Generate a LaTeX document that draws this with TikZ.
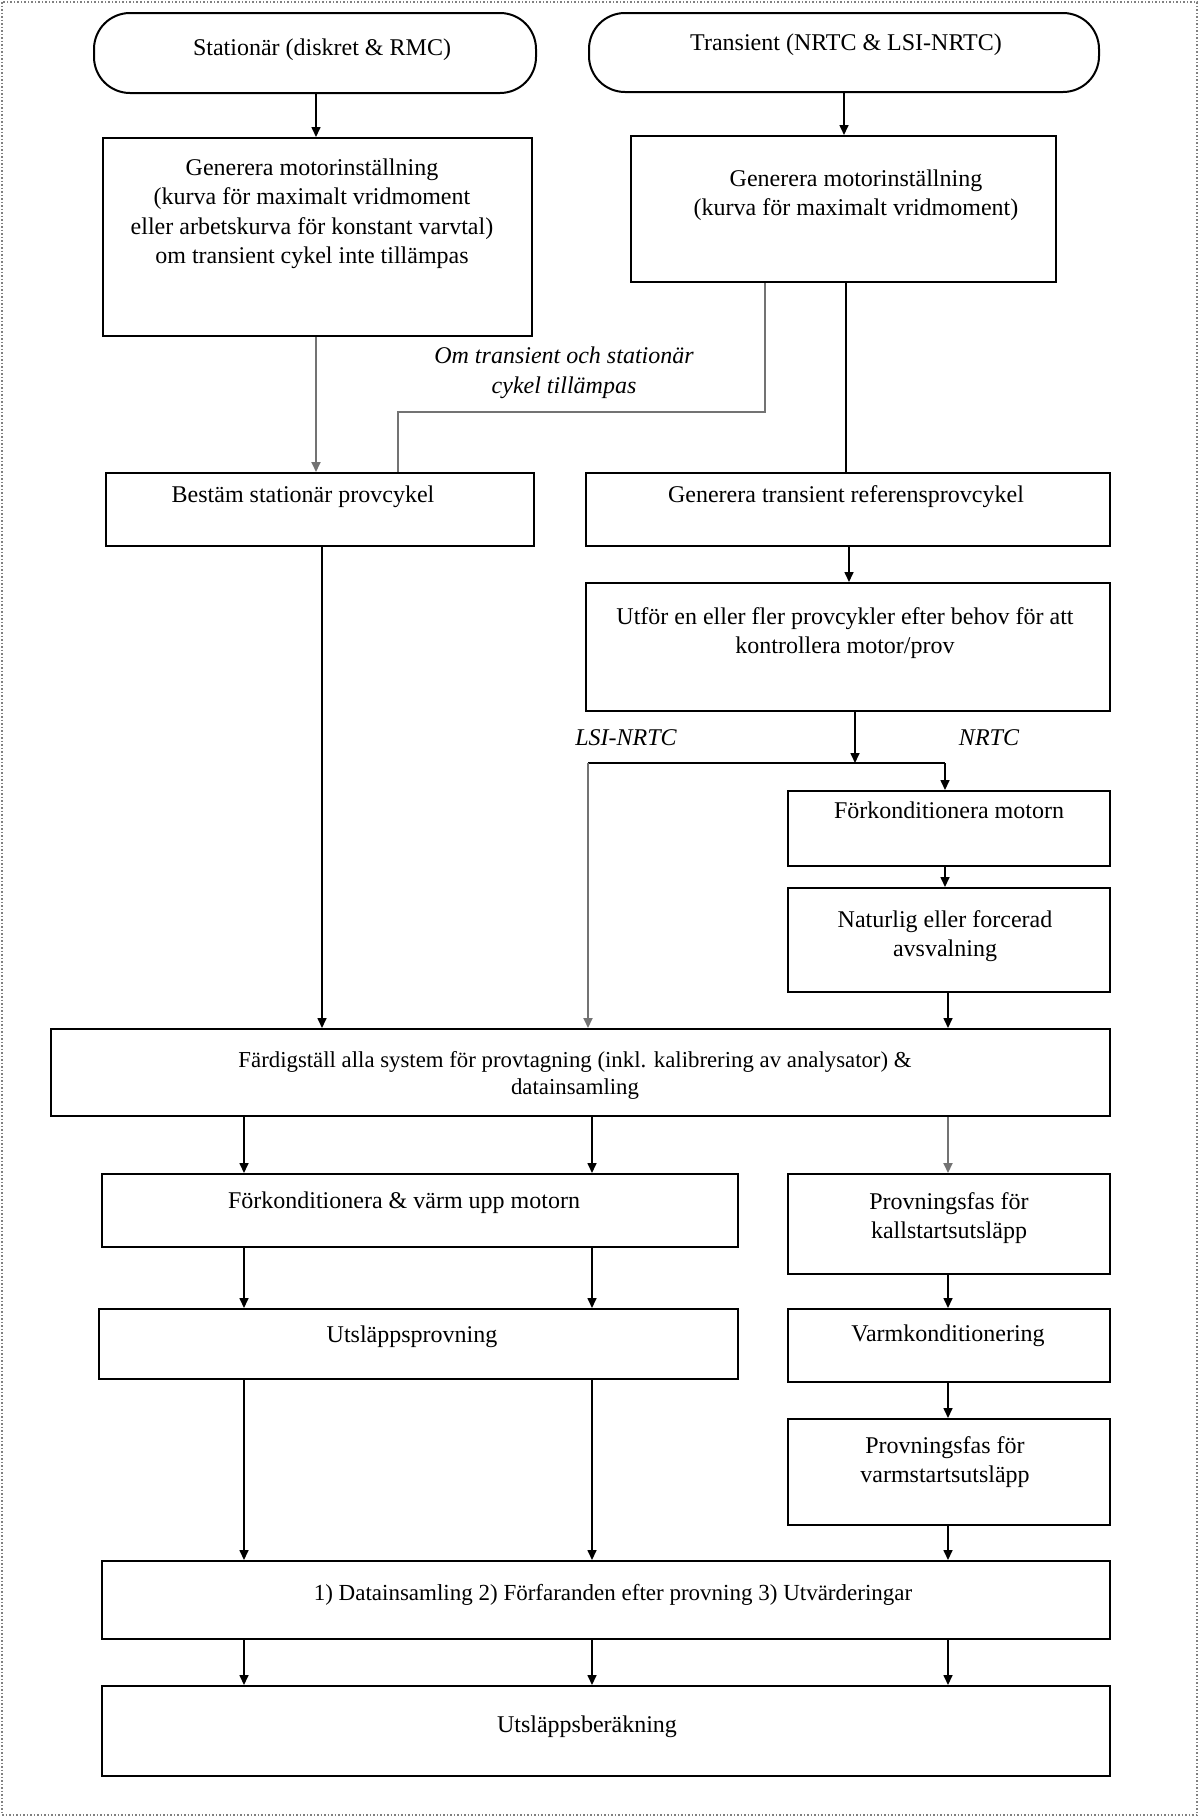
\documentclass[tikz,border=0pt]{standalone}
\usepackage{fontspec}
\setmainfont{Liberation Serif}
\usetikzlibrary{arrows.meta}
\begin{document}
\begin{tikzpicture}[x=1pt,y=-1pt,
  box/.style={draw=black,line width=2pt,inner sep=0pt},
  term/.style={draw=black,line width=2pt,rounded corners=36pt,inner sep=0pt},
  txt/.style={align=center,inner sep=0pt,font=\fontsize{24}{29.5}\selectfont},
  itxt/.style={align=center,inner sep=0pt,font=\fontsize{24}{30}\selectfont\itshape},
  ln/.style={line width=1.6pt,draw=black},
  gln/.style={line width=1.8pt,draw=black!55},
  arr/.style={ln,-{Triangle[length=10pt,width=9pt]}},
  garr/.style={gln,-{Triangle[length=10pt,width=9pt]}}]
\useasboundingbox (0,0) rectangle (1200,1818);
\draw[black!50,dotted,line width=1.5pt] (2,2) rectangle (1197,1815);

% boxes
\node[term,minimum width=442pt,minimum height=80pt] (termL) at (315,53) {};
\node[term,minimum width=510pt,minimum height=79pt] (termR) at (844,52.5) {};
\node[box,minimum width=429pt,minimum height=198pt] (g1) at (317.5,237) {};
\node[box,minimum width=425pt,minimum height=146pt] (g2) at (843.5,209) {};
\node[box,minimum width=428pt,minimum height=73pt] (bestam) at (320,509.5) {};
\node[box,minimum width=524pt,minimum height=73pt] (gentr) at (848,509.5) {};
\node[box,minimum width=524pt,minimum height=128pt] (utfor) at (848,647) {};
\node[box,minimum width=322pt,minimum height=75pt] (forkm) at (949,828.5) {};
\node[box,minimum width=322pt,minimum height=104pt] (natur) at (949,940) {};
\node[box,minimum width=1059pt,minimum height=87pt] (fardig) at (580.5,1072.5) {};
\node[box,minimum width=636pt,minimum height=73pt] (forkv) at (420,1210.5) {};
\node[box,minimum width=322pt,minimum height=100pt] (provk) at (949,1224) {};
\node[box,minimum width=639pt,minimum height=70pt] (utslp) at (418.5,1344) {};
\node[box,minimum width=322pt,minimum height=73pt] (varmk) at (949,1345.5) {};
\node[box,minimum width=322pt,minimum height=106pt] (provv) at (949,1472) {};
\node[box,minimum width=1008pt,minimum height=78pt] (data) at (606,1600) {};
\node[box,minimum width=1008pt,minimum height=90pt] (berak) at (606,1731) {};

% texts
\node[txt] (termLt) at (322,50) {Stationär (diskret \& RMC)};
\node[txt] (termRt) at (846,45) {Transient (NRTC \& LSI-NRTC)};
\node[txt] (g1t) at (312,214) {Generera motorinställning\\(kurva för maximalt vridmoment\\eller arbetskurva för konstant varvtal)\\om transient cykel inte tillämpas};
\node[txt] (g2t) at (856,195) {Generera motorinställning\\(kurva för maximalt vridmoment)};
\node[itxt] (omt) at (564,373) {Om transient och stationär\\cykel tillämpas};
\node[txt] (bestamt) at (303,497) {Bestäm stationär provcykel};
\node[txt] (gentrt) at (846,497) {Generera transient referensprovcykel};
\node[txt] (utfort) at (845,633) {Utför en eller fler provcykler efter behov för att\\kontrollera motor/prov};
\node[itxt] (lsit) at (626,738) {LSI-NRTC};
\node[itxt] (nrtct) at (989,738) {NRTC};
\node[txt] (forkmt) at (949,810) {Förkonditionera motorn};
\node[txt] (naturt) at (945,936) {Naturlig eller forcerad\\avsvalning};
\node[txt,font=\fontsize{22.8}{27}\selectfont] (fardigt) at (575,1075) {Färdigställ alla system för provtagning (inkl. kalibrering av analysator) \&\\datainsamling};
\node[txt] (forkvt) at (404,1203) {Förkonditionera \& värm upp motorn};
\node[txt] (provkt) at (949,1218) {Provningsfas för\\kallstartsutsläpp};
\node[txt] (utslpt) at (412,1337) {Utsläppsprovning};
\node[txt] (varmkt) at (948,1336) {Varmkonditionering};
\node[txt] (provvt) at (945,1462) {Provningsfas för\\varmstartsutsläpp};
\node[txt,font=\fontsize{23}{29}\selectfont] (datat) at (613,1595) {1) Datainsamling 2) Förfaranden efter provning 3) Utvärderingar};
\node[txt] (berakt) at (587,1727) {Utsläppsberäkning};

% column coordinates
\coordinate (xA) at (316,0);
\coordinate (xB) at (844,0);
\coordinate (xC) at (765,0);
\coordinate (xD) at (398,0);
\coordinate (xE) at (846,0);
\coordinate (xF) at (849,0);
\coordinate (xG) at (855,0);
\coordinate (xJ) at (322,0);
\coordinate (xK) at (948,0);
\coordinate (xL) at (244,0);
\coordinate (xM) at (592,0);
\coordinate (brL) at (588,763);
\coordinate (brR) at (945,763);
\coordinate (jy) at (0,412);

% connectors
\draw[arr] (termL.south -| xA) -- (g1.north -| xA);
\draw[arr] (termR.south -| xB) -- (g2.north -| xB);
\draw[garr] (g1.south -| xA) -- (bestam.north -| xA);
\draw[gln] (g2.south -| xC) -- (xC |- jy) -- (xD |- jy) -- (bestam.north -| xD);
\draw[ln] (g2.south -| xE) -- (gentr.north -| xE);
\draw[arr] (gentr.south -| xF) -- (utfor.north -| xF);
\draw[arr] (utfor.south -| xG) -- (xG |- brL);
\draw[ln] (brL) -- (brR);
\draw[arr] (brR) -- (forkm.north -| brR);
\draw[garr] (brL) -- (fardig.north -| brL);
\draw[arr] (bestam.south -| xJ) -- (fardig.north -| xJ);
\draw[arr] (forkm.south -| brR) -- (natur.north -| brR);
\draw[arr] (natur.south -| xK) -- (fardig.north -| xK);
\draw[arr] (fardig.south -| xL) -- (forkv.north -| xL);
\draw[arr] (fardig.south -| xM) -- (forkv.north -| xM);
\draw[garr] (fardig.south -| xK) -- (provk.north -| xK);
\draw[arr] (forkv.south -| xL) -- (utslp.north -| xL);
\draw[arr] (forkv.south -| xM) -- (utslp.north -| xM);
\draw[arr] (provk.south -| xK) -- (varmk.north -| xK);
\draw[arr] (varmk.south -| xK) -- (provv.north -| xK);
\draw[arr] (utslp.south -| xL) -- (data.north -| xL);
\draw[arr] (utslp.south -| xM) -- (data.north -| xM);
\draw[arr] (provv.south -| xK) -- (data.north -| xK);
\draw[arr] (data.south -| xL) -- (berak.north -| xL);
\draw[arr] (data.south -| xM) -- (berak.north -| xM);
\draw[arr] (data.south -| xK) -- (berak.north -| xK);
\end{tikzpicture}
\end{document}
